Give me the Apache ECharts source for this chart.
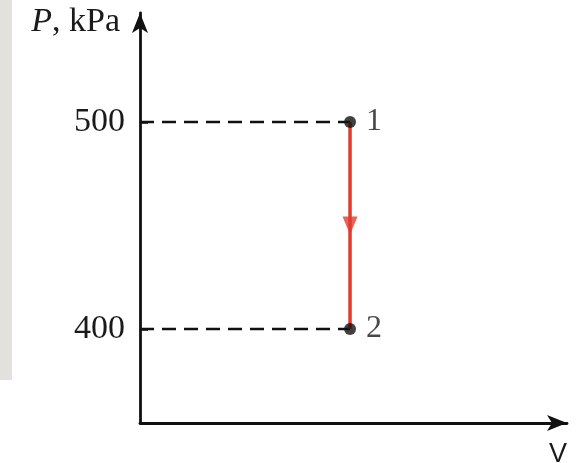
<!DOCTYPE html>
<html><head><meta charset="utf-8">
<script src="https://cdn.jsdelivr.net/npm/echarts@6/dist/echarts.min.js"></script>
<style>html,body{margin:0;padding:0;background:#fff}#c{width:582px;height:463px}</style>
</head><body><div id="c"></div>
<script>
// Data
const stateLabels = ['1', '2'];
const pressures = [500, 400];       // kPa
const volume = 1;                   // same V for both states (isochoric)
const yTicks = [400, 500];
const arrowP = 450;

const chart = echarts.init(document.getElementById('c'));
const serif = 'Liberation Serif, Times New Roman, serif';

const series = [];
// dashed guide lines
pressures.forEach(p => {
  series.push({
    type: 'line', data: [[0, p], [volume, p]], symbol: 'none', silent: true,
    lineStyle: { color: '#111', width: 2.5, type: [14, 8] }, z: 2
  });
});
// process line
series.push({
  type: 'line', data: [[volume, pressures[0]], [volume, pressures[1]]], symbol: 'none',
  lineStyle: { color: '#e23b2e', width: 3.5 }, z: 3
});
// arrow head
series.push({
  type: 'scatter', data: [[volume, arrowP]], symbol: 'triangle', symbolRotate: 180,
  symbolSize: [15, 18], itemStyle: { color: '#e23b2e' }, z: 4
});
// state points
series.push({
  type: 'scatter', data: pressures.map((p, i) => ({ value: [volume, p], name: stateLabels[i] })),
  symbol: 'circle', symbolSize: 12, itemStyle: { color: '#111' }, z: 5,
  label: { show: true, position: 'right', distance: 10, formatter: '{b}',
    color: '#1a1a1a', fontFamily: serif, fontSize: 32 }
});

chart.setOption({
  animation: false,
  backgroundColor: '#fff',
  graphic: [{ type: 'rect', shape: { x: 0, y: 0, width: 12, height: 380 }, style: { fill: '#e2e1de' }, z: -1 }],
  grid: { left: 140, right: 15, top: 13, bottom: 40, containLabel: false, outerBoundsMode: 'none' },
  xAxis: {
    type: 'value', min: 0, max: 2.033,
    splitLine: { show: false }, axisTick: { show: false }, axisLabel: { show: false },
    axisLine: { lineStyle: { color: '#111', width: 2.8 }, symbol: ['none', 'arrow'], symbolSize: [12, 20] },
    name: 'V', nameLocation: 'end', nameGap: 0,
    nameTextStyle: { fontFamily: 'Liberation Sans, Arial, sans-serif', fontSize: 27, color: '#1a1a1a',
      align: 'right', verticalAlign: 'top', padding: [18, 0, 0, 0] }
  },
  yAxis: {
    type: 'value', min: 354.6, max: 552.7,
    splitLine: { show: false },
    axisLine: { lineStyle: { color: '#111', width: 2.8 }, symbol: ['none', 'arrow'], symbolSize: [12, 20] },
    axisTick: { show: true, inside: true, length: 8, customValues: yTicks, lineStyle: { color: '#111', width: 2.5 } },
    axisLabel: { customValues: yTicks, margin: 15, fontFamily: serif, fontSize: 34, color: '#1a1a1a' },
    name: '{i|P}, kPa', nameLocation: 'end', nameGap: -9,
    nameTextStyle: { align: 'right', verticalAlign: 'middle', padding: [0, 20, 0, 0],
      fontFamily: serif, fontSize: 34, color: '#1a1a1a',
      rich: { i: { fontFamily: serif, fontStyle: 'italic', fontSize: 34, color: '#1a1a1a' } } }
  },
  series: series
});
</script></body></html>
